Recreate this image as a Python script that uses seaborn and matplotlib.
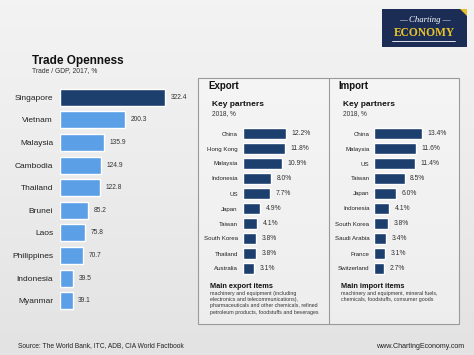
import matplotlib
matplotlib.use("Agg")
import matplotlib.pyplot as plt
import seaborn as sns
import numpy as np
import pandas as pd
from matplotlib.patches import Rectangle, Polygon
from matplotlib.lines import Line2D
from matplotlib.colors import LinearSegmentedColormap

# data
countries = ["Singapore", "Vietnam", "Malaysia", "Cambodia", "Thailand",
             "Brunei", "Laos", "Philippines", "Indonesia", "Myanmar"]
openness = [322.4, 200.3, 135.9, 124.9, 122.8, 85.2, 75.8, 70.7, 39.5, 39.1]

export_partners = ["China", "Hong Kong", "Malaysia", "Indonesia", "US",
                   "Japan", "Taiwan", "South Korea", "Thailand", "Australia"]
export_share = [12.2, 11.8, 10.9, 8.0, 7.7, 4.9, 4.1, 3.8, 3.8, 3.1]

import_partners = ["China", "Malaysia", "US", "Taiwan", "Japan",
                   "Indonesia", "South Korea", "Saudi Arabia", "France", "Switzerland"]
import_share = [13.4, 11.6, 11.4, 8.5, 6.0, 4.1, 3.8, 3.4, 3.1, 2.7]

export_items = ("machinery and equipment (including\n"
                "electronics and telecommunications),\n"
                "pharmaceuticals and other chemicals, refined\n"
                "petroleum products, foodstuffs and beverages")
import_items = ("machinery and equipment, mineral fuels,\n"
                "chemicals, foodstuffs, consumer goods")

W, H = 474, 355
NAVY = "#1d3f6e"
LIGHT = "#5b9fe6"

sns.set_theme(style="white")
plt.rcParams["font.family"] = ["Liberation Sans", "DejaVu Sans"]

fig = plt.figure(figsize=(W / 100, H / 100), dpi=100)
fig.patch.set_facecolor("#ebebeb")

# soft grey background, lighter at the top
bg = fig.add_axes([0, 0, 1, 1], zorder=-10)
grad = LinearSegmentedColormap.from_list("bg", ["#f3f3f3", "#ececec", "#e3e3e3"])
bg.imshow(np.linspace(0, 1, 100).reshape(-1, 1), aspect="auto", cmap=grad,
          extent=[0, 1, 0, 1])
bg.set_axis_off()


def px_axes(x0, y0, x1, y1):
    return fig.add_axes([x0 / W, 1 - y1 / H, (x1 - x0) / W, (y1 - y0) / H])


def ftext(x, y, s, **kw):
    kw.setdefault("va", "center")
    fig.text(x / W, 1 - y / H, s, **kw)


def clean(ax):
    ax.set_facecolor("none")
    for sp in ax.spines.values():
        sp.set_visible(False)
    ax.set_xticks([])
    ax.set_xlabel("")
    ax.set_ylabel("")
    ax.tick_params(axis="y", length=0)


# panel box for export / import (behind the axes)
fig.add_artist(Rectangle((197.5 / W, 1 - 324 / H), 262 / W, 246 / H,
                         transform=fig.transFigure, facecolor=(1, 1, 1, 0.35),
                         edgecolor="#9a9a9a", linewidth=0.8, zorder=-2))
fig.add_artist(Line2D([328.5 / W, 328.5 / W], [1 - 324 / H, 1 - 78 / H],
                      transform=fig.transFigure, color="#9a9a9a", linewidth=0.8,
                      zorder=-1))

# left chart: trade openness
df = pd.DataFrame({"country": countries, "value": openness})
pal = {c: (NAVY if i == 0 else LIGHT) for i, c in enumerate(countries)}
ax = px_axes(60, 86, 200, 312)
sns.barplot(data=df, x="value", y="country", hue="country", palette=pal,
            legend=False, orient="h", width=0.75, saturation=1, ax=ax)
ax.set_xlim(0, 430)
ax.set_ylim(9.5, -0.5)
clean(ax)
ax.tick_params(axis="y", pad=5, labelsize=6, labelcolor="#222222")
for cont in ax.containers:
    ax.bar_label(cont, fmt="%.1f", padding=4, fontsize=4.8, color="#333333")

ftext(32, 61, "Trade Openness", fontsize=8.5, fontweight="bold", color="#111111")
ftext(32, 71, "Trade / GDP, 2017, %", fontsize=4.9, color="#333333")


def partner_chart(x0, names, vals):
    d = pd.DataFrame({"partner": names, "share": vals})
    a = px_axes(x0, 126, x0 + 80, 276)
    sns.barplot(data=d, x="share", y="partner", color=NAVY, orient="h",
                width=0.72, saturation=1, ax=a)
    a.set_xlim(0, 80 / 3.57)
    a.set_ylim(9.5, -0.5)
    clean(a)
    a.tick_params(axis="y", pad=3.5, labelsize=4.4, labelcolor="#222222")
    for cont in a.containers:
        a.bar_label(cont, fmt="%.1f%%", padding=4, fontsize=4.9, color="#333333")


partner_chart(242.7, export_partners, export_share)
partner_chart(374.3, import_partners, import_share)

# panel texts
ftext(208, 86, "Export", fontsize=7, fontweight="bold", color="#111111")
ftext(212, 104, "Key partners", fontsize=6, fontweight="bold", color="#111111")
ftext(212, 114, "2018, %", fontsize=4.7, color="#333333")
ftext(338, 86, "Import", fontsize=7, fontweight="bold", color="#111111")
ftext(343, 104, "Key partners", fontsize=6, fontweight="bold", color="#111111")
ftext(343, 114, "2018, %", fontsize=4.7, color="#333333")

ftext(210, 287, "Main export items", fontsize=5.3, fontweight="bold", color="#111111")
ftext(210, 291, export_items, fontsize=3.8, color="#333333", va="top", linespacing=1.3)
ftext(341, 287, "Main import items", fontsize=5.3, fontweight="bold", color="#111111")
ftext(341, 291, import_items, fontsize=3.8, color="#333333", va="top", linespacing=1.3)

# footer
ftext(18, 346, "Source: The World Bank, ITC, ADB, CIA World Factbook",
      fontsize=4.8, color="#222222")
ftext(464, 347, "www.ChartingEconomy.com", fontsize=5.1, color="#222222", ha="right")

# logo
fig.add_artist(Rectangle((382 / W, 1 - 47 / H), 85 / W, 38 / H,
                         transform=fig.transFigure, facecolor="#1b2d55",
                         edgecolor="none"))
fig.add_artist(Polygon([[460 / W, 1 - 9 / H], [467 / W, 1 - 9 / H], [467 / W, 1 - 16 / H]],
                       closed=True, transform=fig.transFigure, facecolor="#e6bf2a",
                       edgecolor="none"))
ftext(424.5, 20, "— Charting —", fontsize=6.3, color="white", ha="center",
      family=["Liberation Serif", "DejaVu Serif"], style="italic")
ftext(424.5, 33, "ECONOMY", fontsize=8.3, color="#e9c22b", ha="center",
      family=["Liberation Serif", "DejaVu Serif"], fontweight="bold")
fig.add_artist(Line2D([392 / W, 455 / W], [1 - 41 / H, 1 - 41 / H],
                      transform=fig.transFigure, color="white", linewidth=0.6))

fig.savefig("out.png", dpi=100, facecolor=fig.get_facecolor())
